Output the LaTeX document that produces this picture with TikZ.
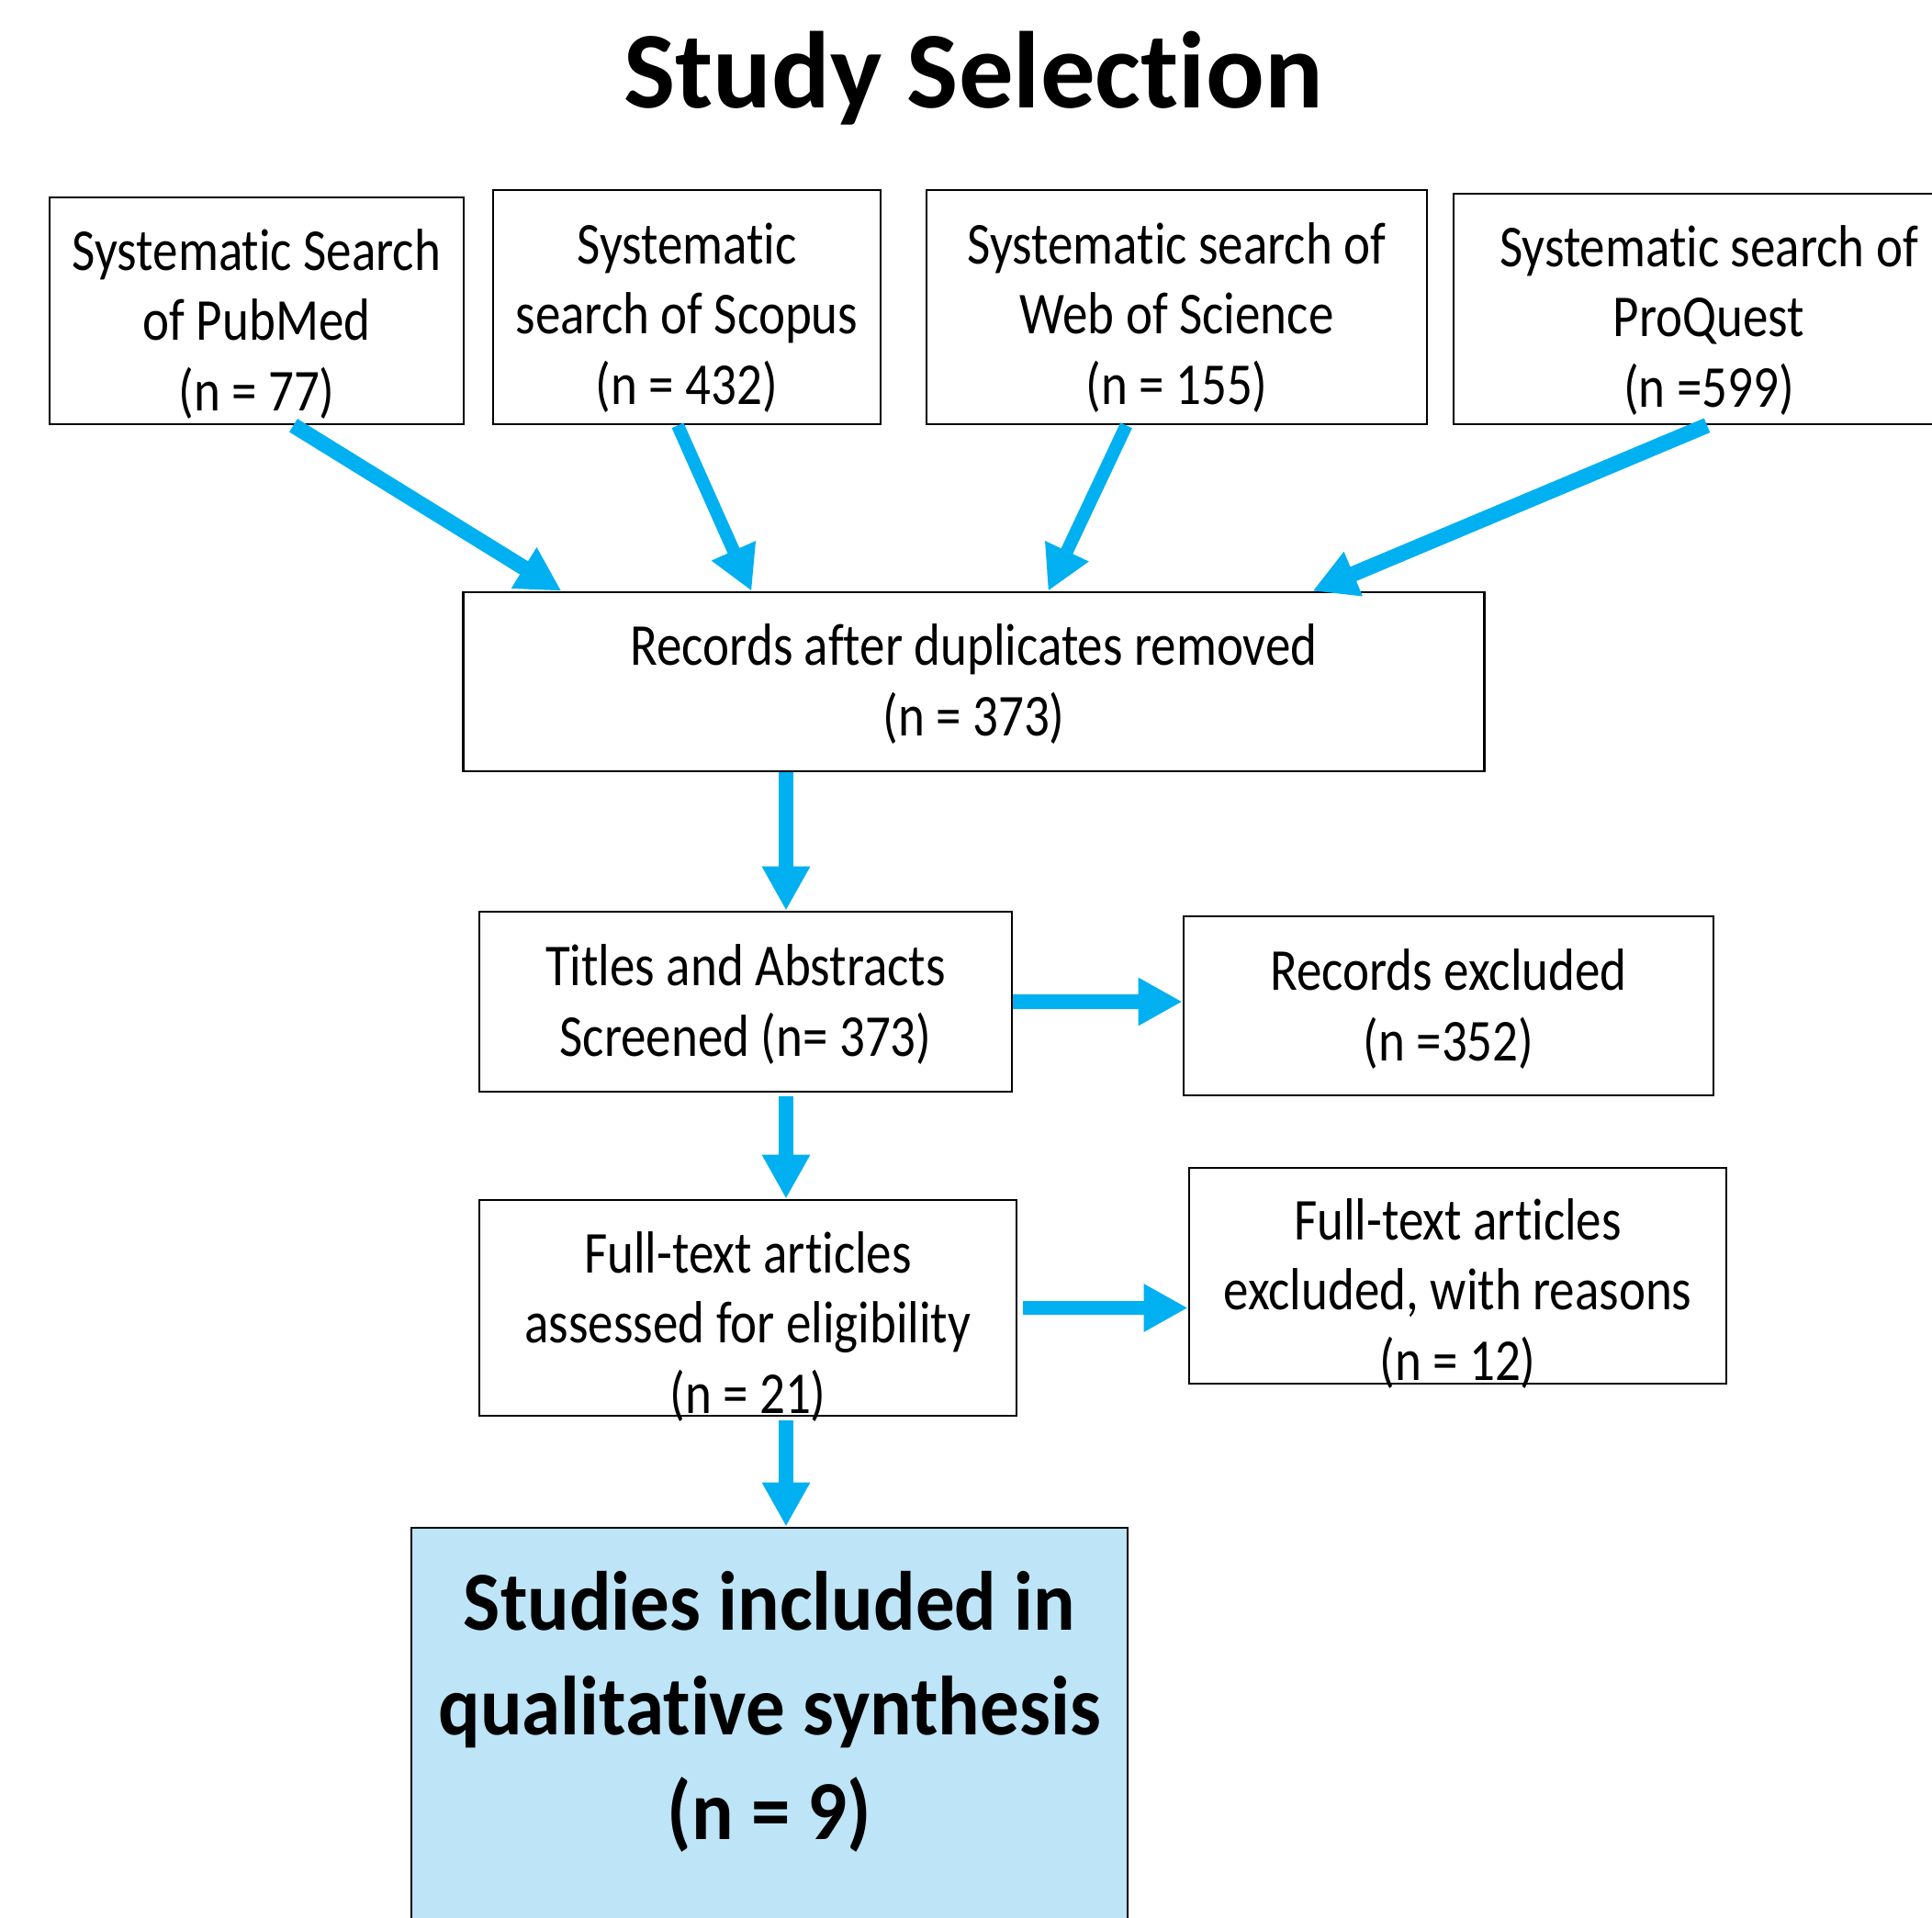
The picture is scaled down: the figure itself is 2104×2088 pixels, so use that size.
\documentclass[tikz,border=0pt]{standalone}
\usepackage{fontspec}
\setmainfont[Ligatures=NoCommon]{Carlito}
\newfontfamily\narrowfont[FakeStretch=0.85, Ligatures=NoCommon]{Carlito}
\newfontfamily\inclfont[FakeStretch=0.93, Ligatures=NoCommon]{Carlito}
\usetikzlibrary{arrows.meta, calc}
\definecolor{flowblue}{RGB}{0,176,240}
\definecolor{inclblue}{RGB}{189,228,247}

\begin{document}
\begin{tikzpicture}[
  x=0.01cm, y=-0.01cm,
  block/.style={draw, line width=0.7pt, align=center, inner sep=0pt, text depth=0pt,
    font=\narrowfont\fontsize{18.4pt}{21.7pt}\selectfont},
  arr/.style={-{Triangle[length=4.8mm, width=4.9mm]}, draw=flowblue, line width=4.5pt},
]
  \useasboundingbox (0,0) rectangle (2104,2088);
  \clip (0,0) rectangle (2104,2088);

  \node[font=\fontsize{33.8pt}{40pt}\selectfont\bfseries, anchor=base] (title) at (1060,118) {Study Selection};

  % database searches
  \node[block, minimum width=4.51cm, minimum height=2.47cm, text height=61.8pt] (pubmed) at (279.5,338.5) {Systematic Search\\of PubMed\\(n = 77)};
  \node[block, minimum width=4.22cm, minimum height=2.55cm, text height=60pt] (scopus) at (748,334.5) {Systematic\\search of Scopus\\(n = 432)};
  \node[block, minimum width=5.45cm, minimum height=2.55cm, text height=60pt] (wos) at (1281.5,334.5) {Systematic search of\\Web of Science\\(n = 155)};
  \node[block, minimum width=5.56cm, minimum height=2.51cm, text height=60.6pt] (proquest) at (1861,336.5) {Systematic search of\\ProQuest\\(n =599)};

  % screening steps
  \node[block, minimum width=11.11cm, minimum height=1.95cm, text height=33.3pt] (dedup) at (1060.5,742.5) {Records after duplicates removed\\(n = 373)};
  \node[block, minimum width=5.80cm, minimum height=1.96cm, text height=33.6pt] (screen) at (812,1091) {Titles and Abstracts\\Screened (n= 373)};
  \node[block, minimum width=5.77cm, minimum height=1.95cm, text height=33.9pt] (recexcl) at (1577.5,1095.5) {Records excluded\\(n =352)};
  \node[block, minimum width=5.85cm, minimum height=2.35cm, text height=65.2pt] (fulltext) at (814.5,1424.5) {Full-text articles\\assessed for eligibility\\(n = 21)};
  \node[block, minimum width=5.85cm, minimum height=2.35cm, text height=64.6pt] (fullexcl) at (1587.5,1389.5) {Full-text articles\\excluded, with reasons\\(n = 12)};
  \node[block, fill=inclblue, minimum width=7.80cm, minimum height=4.46cm, text height=66pt,
    font=\inclfont\bfseries\fontsize{26pt}{32.4pt}\selectfont] (incl) at (838,1887) {Studies included in\\qualitative synthesis\\(n = 9)};

  \coordinate (spine) at (856,0);

  \foreach \s/\a/\b/\w in {pubmed/40/108/4.8pt, scopus/-10/315/4pt, wos/-55/638/4pt, proquest/-2/926/4.8pt}
    \draw[arr, line width=\w] ($(\s.south)+(\a,0)$) -- ($(dedup.north west)+(\b,0)$);
  \draw[arr] (dedup.south -| spine) -- (screen.north -| spine);
  \draw[arr] (screen.east) -- (screen.east -| recexcl.west);
  \draw[arr] ($(screen.south -| spine)+(0,4)$) -- (fulltext.north -| spine);
  \draw[arr] ($(fulltext.east)+(6,0)$) -- (fulltext.east -| fullexcl.west);
  \draw[arr] ($(fulltext.south -| spine)+(0,4)$) -- (incl.north -| spine);
\end{tikzpicture}
\end{document}
